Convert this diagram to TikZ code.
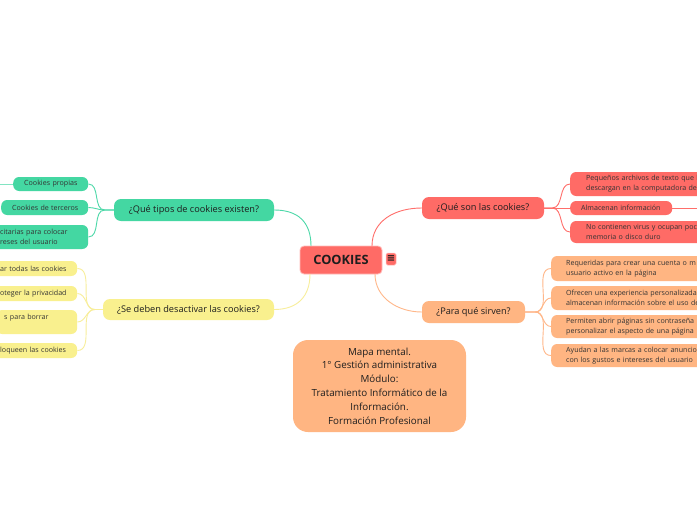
\documentclass[tikz,border=0pt]{standalone}
\usepackage{fontspec}
\setmainfont{Open Sans}
\newfontfamily\symfont{DejaVu Sans}
\definecolor{cRed}{HTML}{FF6B66}
\definecolor{cGreen}{HTML}{44D7A2}
\definecolor{cYellow}{HTML}{F9F08E}
\definecolor{cOrange}{HTML}{FFB582}
\definecolor{lRed}{HTML}{FF6E6A}
\definecolor{lGreen}{HTML}{4CD8A8}
\definecolor{lYellow}{HTML}{F8EE9A}
\definecolor{lOrange}{HTML}{FFB789}
\definecolor{txt}{HTML}{1E1E1E}
\definecolor{txtb}{HTML}{333333}
\tikzset{
  parentbox/.style={rounded corners=7pt, inner sep=0pt, minimum height=22pt,
    font=\fontsize{9.2}{11}\selectfont, text=txt},
  childbox/.style={rounded corners=6pt, anchor=west, align=left, inner ysep=0pt,
    font=\fontsize{7.1}{10}\selectfont, text=txtb},
  conn/.style={line width=0.9pt},
}
\begin{document}
\begin{tikzpicture}[x=1pt,y=-1pt]
\useasboundingbox (0,0) rectangle (697,520);
\clip (0,0) rectangle (697,520);
\fill[white] (0,0) rectangle (697,520);

% root
\node[rounded corners=4pt, fill=cRed, draw=cRed!45!white, line width=0.8pt,
  minimum width=82pt, minimum height=28pt, inner sep=0pt,
  font=\fontsize{12.8}{14}\selectfont\bfseries, text=txt] (root) at (341,260) {COOKIES};
\node[rounded corners=1.5pt, fill=cRed, draw=cRed!45!white, line width=0.5pt,
  minimum width=10pt, minimum height=12pt, inner sep=0pt,
  font=\symfont\fontsize{10}{10}\selectfont\bfseries, text=txt] (icon) at (391,259) {≡};

\coordinate (rtl) at (311,246);
\coordinate (rbl) at (310,274);
\coordinate (rtr) at (372,246);
\coordinate (rbr) at (375,274);

% main branches
\node[parentbox, fill=cGreen, minimum width=160pt] (qTipos) at (194,210) {¿Qué tipos de cookies existen?};
\node[parentbox, fill=cYellow, minimum width=171pt, minimum height=21pt] (qDes) at (188.5,309.5) {¿Se deben desactivar las cookies?};
\node[parentbox, fill=cRed, minimum width=122pt] (qSon) at (483,208) {¿Qué son las cookies?};
\node[parentbox, fill=cOrange, minimum width=103pt] (qPara) at (473.5,312) {¿Para qué sirven?};

\draw[conn, lGreen] (rtl) .. controls (311,222) and (298,210) .. (qTipos.east);
\draw[conn, lYellow] (rbl) .. controls (310,296) and (298,309.5) .. (qDes.east);
\draw[conn, lRed] (rtr) .. controls (372,220) and (396,208) .. (qSon.west);
\draw[conn, lOrange] (rbr) .. controls (375,298) and (398,312) .. (qPara.west);

% info
\node[rounded corners=15pt, fill=cOrange, minimum width=173pt, minimum height=92pt,
  inner sep=0pt, align=center, font=\fontsize{9.8}{13.8}\selectfont, text=txt] (info) at (379.5,386)
  {Mapa mental.\\1° Gestión administrativa\\Módulo:\\Tratamiento Informático de la\\Información.\\Formación Profesional};

% red children
\node[childbox, fill=cRed, inner xsep=16pt, text width=130pt, minimum height=24pt] (rA) at (570,184)
  {\mbox{Pequeños archivos de texto que l}\\\mbox{descargan en la computadora de}};
\node[childbox, fill=cRed, inner xsep=11pt, text width=80pt, minimum height=14pt] (rB) at (570,208)
  {\mbox{Almacenan información}};
\node[childbox, fill=cRed, inner xsep=16pt, text width=130pt, minimum height=22pt] (rC) at (570,232)
  {\mbox{No contienen virus y ocupan poc}\\\mbox{memoria o disco duro}};
\coordinate (edgeR) at (705,208);
\draw[conn, lRed] (qSon.east) -- ++(8,0) to[out=0,in=180] (rA.west);
\draw[conn, lRed] (qSon.east) -- (rB.west);
\draw[conn, lRed] (qSon.east) -- ++(8,0) to[out=0,in=180] (rC.west);
\draw[conn, lRed] (rB.east) -- (edgeR);

% orange children
\node[childbox, fill=cOrange, inner xsep=15pt, text width=150pt, minimum height=25pt] (oA) at (551,268.5)
  {\mbox{Requeridas para crear una cuenta o m}\\\mbox{usuario activo en la página}};
\node[childbox, fill=cOrange, inner xsep=15pt, text width=150pt, minimum height=24pt] (oB) at (551,298)
  {\mbox{Ofrecen una experiencia personalizada}\\\mbox{almacenan información sobre el uso de}};
\node[childbox, fill=cOrange, inner xsep=15pt, text width=150pt, minimum height=23pt] (oC) at (551,326.5)
  {\mbox{Permiten abrir páginas sin contraseña}\\\mbox{personalizar el aspecto de una página}};
\node[childbox, fill=cOrange, inner xsep=15pt, text width=150pt, minimum height=23pt] (oD) at (551,355.5)
  {\mbox{Ayudan a las marcas a colocar anuncio}\\\mbox{con los gustos e intereses del usuario}};
\foreach \c in {oA,oB,oC,oD}
  \draw[conn, lOrange] (qPara.east) -- ++(10,0) to[out=0,in=180] (\c.west);

% green children
\node[childbox, fill=cGreen, inner xsep=11pt, text width=53pt, minimum height=14pt] (gA) at (13,184)
  {\mbox{Cookies propias}};
\node[childbox, fill=cGreen, inner xsep=11pt, text width=65pt, minimum height=15pt] (gB) at (1,207.5)
  {\mbox{Cookies de terceros}};
\node[childbox, fill=cGreen, inner xsep=8pt, text width=80pt, minimum height=24pt] (gC) at (-8,237)
  {\mbox{citarias para colocar}\\\mbox{reses del usuario}};
\coordinate (edgeL) at (-5,184);
\foreach \c in {gA,gB,gC}
  \draw[conn, lGreen] (qTipos.west) -- ++(-9,0) to[out=180,in=0] (\c.east);
\draw[conn, lGreen!70!white] (gA.west) -- (edgeL);

% yellow children
\node[childbox, fill=cYellow, inner xsep=8pt, text width=69pt, minimum height=15pt] (yA) at (-8,268.5)
  {\mbox{ar todas las cookies}};
\node[childbox, fill=cYellow, inner xsep=8pt, text width=69pt, minimum height=15pt] (yB) at (-8,293.5)
  {\mbox{oteger la privacidad}};
\node[childbox, fill=cYellow, inner xsep=8pt, text width=65pt, minimum height=24pt] (yC) at (-4,322)
  {\mbox{s para borrar}\\\mbox{}};
\node[childbox, fill=cYellow, inner xsep=8pt, text width=69pt, minimum height=15pt] (yD) at (-8,350.5)
  {\mbox{loqueen las cookies}};
\foreach \c in {yA,yB,yC,yD}
  \draw[conn, lYellow] (qDes.west) -- ++(-8,0) to[out=180,in=0] (\c.east);
\end{tikzpicture}
\end{document}
